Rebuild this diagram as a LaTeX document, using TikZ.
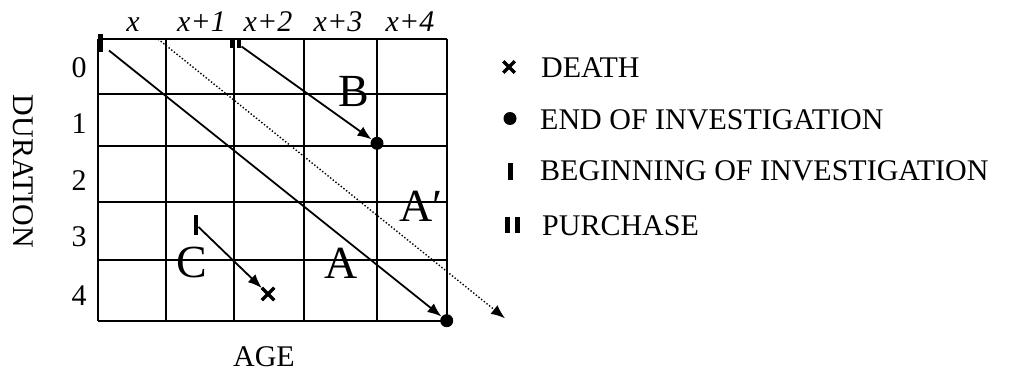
\documentclass[tikz,border=0pt]{standalone}
\usepackage{fontspec}
\setmainfont{Liberation Serif}
\usetikzlibrary{arrows.meta,shapes.misc}
\begin{document}
\begin{tikzpicture}[x=1pt,y=-1pt,
  gridline/.style={line width=2.2pt},
  arr/.style={line width=1.8pt,-{Latex[length=14pt,width=11pt]}},
  dotarr/.style={line width=1.4pt,dotted,-{Latex[length=14pt,width=11pt]}},
  enddot/.style={circle,fill=black,inner sep=0pt,minimum size=13pt},
  begmark/.style={rectangle,fill=black,inner sep=0pt,minimum width=4.5pt,minimum height=18pt},
  deathmark/.style={cross out,draw=black,line width=3.5pt,inner sep=0pt,minimum width=8pt,minimum height=8pt},
  lab/.style={font=\fontsize{30}{36}\selectfont,inner sep=0pt},
  collab/.style={font=\fontsize{30}{36}\selectfont\itshape,inner sep=0pt,anchor=base},
  big/.style={font=\fontsize{46}{52}\selectfont,inner sep=0pt,anchor=base},
  legtext/.style={font=\fontsize{30}{36}\selectfont,inner sep=0pt,anchor=base west},
]
\useasboundingbox (0,0) rectangle (1029,377);

% grid
\foreach \x in {97.7,166,234.3,304.3,376.7,446.7}
  \draw[gridline] (\x,39) -- (\x,320.7);
\foreach \y in {39,94.3,145.7,201.7,260,320.7}
  \draw[gridline] (97.7,\y) -- (446.7,\y);

% column labels
\node[collab] (c0) at (133,31.7) {x};
\node[collab] (c1) at (201.5,31.7) {x+1};
\node[collab] (c2) at (268,31.7) {x+2};
\node[collab] (c3) at (338,31.7) {x+3};
\node[collab] (c4) at (410,31.7) {x+4};

% row labels
\node[lab,anchor=base] (r0) at (79,77.5) {0};
\node[lab,anchor=base] (r1) at (79,134) {1};
\node[lab,anchor=base] (r2) at (79,190) {2};
\node[lab,anchor=base] (r3) at (79,246.5) {3};
\node[lab,anchor=base] (r4) at (79,305) {4};

\node[lab,rotate=-90] (dur) at (23.3,171.5) {DURATION};
\node[lab,anchor=base] (age) at (264,366.7) {AGE};

% life line A
\node[begmark] (Am) at (100.5,43) {};
\coordinate (Astart) at (109,50.5);
\node[enddot] (Aend) at (446.7,320.7) {};
\draw[arr] (Astart) -- (Aend);

% dotted line A'
\coordinate (Dstart) at (158,39);
\coordinate (Dend) at (505,318.3);
\draw[dotarr] (Dstart) -- (Dend);

% life line B
\node[begmark,minimum height=10pt] (Bm1) at (232.5,43.5) {};
\node[begmark,minimum height=10pt] (Bm2) at (239,43.5) {};
\coordinate (Bstart) at (241.5,46.5);
\node[enddot] (Bend) at (377,143.3) {};
\draw[arr] (Bstart) -- (Bend);

% life line C
\node[begmark,minimum height=20pt] (Cm) at (196,225) {};
\coordinate (Cstart) at (198.5,227);
\node[deathmark,minimum width=9pt,minimum height=9pt] (Cx) at (268,294) {};
\draw[arr] (Cstart) -- (Cx);

% big letters
\node[big] (lB) at (354,106.7) {B};
\node[big,anchor=base west] (lAp) at (399,222) {A′};
\node[big] (lA) at (341,278) {A};
\node[big] (lC) at (192,277) {C};

% legend
\node[deathmark] (kx) at (509,67) {};
\node[legtext] (tx) at (541,78) {DEATH};
\node[enddot] (kd) at (510,118.5) {};
\node[legtext] (td) at (540,129.5) {END OF INVESTIGATION};
\node[begmark,minimum width=5pt,minimum height=17pt] (kb) at (510.5,171.5) {};
\node[legtext] (tb) at (540,181) {BEGINNING OF INVESTIGATION};
\node[begmark,minimum width=5pt,minimum height=15pt] (kp1) at (507.5,225) {};
\node[begmark,minimum width=5pt,minimum height=15pt] (kp2) at (517.5,225) {};
\node[legtext] (tp) at (542,236) {PURCHASE};
\end{tikzpicture}
\end{document}
